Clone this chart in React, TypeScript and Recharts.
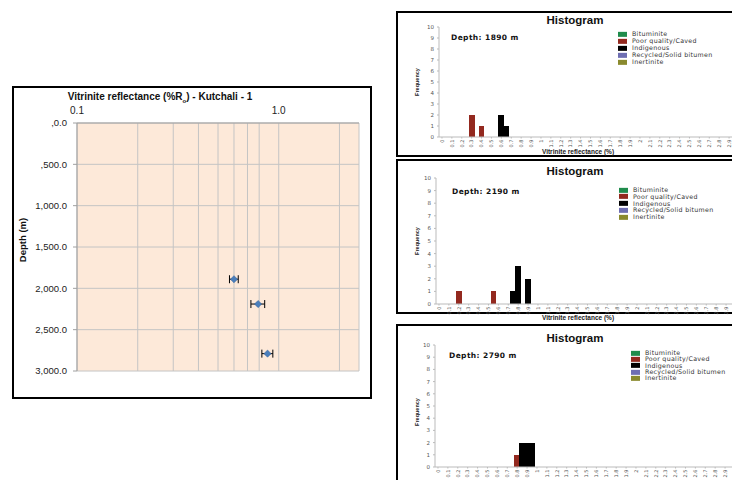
import React from "react";
import {
  ScatterChart,
  Scatter,
  BarChart,
  Bar,
  XAxis,
  YAxis,
  CartesianGrid,
  ErrorBar,
} from "recharts";

// reflectance profile (left)
const sampleDepths = [1890, 2190, 2790];
const meanRo = [0.6, 0.79, 0.88];
const roError = [0.03, 0.062, 0.055];

const roTicks = [0.1, 0.2, 0.3, 0.4, 0.5, 0.6, 0.7, 0.8, 0.9, 1, 2, 2.5];
const roTickLabels = ["0.1", "", "", "", "", "", "", "", "", "1.0", "", ""];
const depthTicks = [0, 500, 1000, 1500, 2000, 2500, 3000];
const depthTickLabels = [",0.0", ",500.0", "1,000.0", "1,500.0", "2,000.0", "2,500.0", "3,000.0"];
const depthMinorTicks = [
  0, 100, 200, 300, 400, 500, 600, 700, 800, 900, 1000, 1100, 1200, 1300, 1400, 1500,
  1600, 1700, 1800, 1900, 2000, 2100, 2200, 2300, 2400, 2500, 2600, 2700, 2800, 2900, 3000,
];

// histograms (right)
const macerals = ["Bituminite", "Poor quality/Caved", "Indigenous", "Recycled/Solid bitumen", "Inertinite"];
const maceralColors = ["#1F8C4C", "#93291F", "#000000", "#6E6EB2", "#8A8A2E"];
const histTicks = [
  0, 0.1, 0.2, 0.3, 0.4, 0.5, 0.6, 0.7, 0.8, 0.9, 1, 1.1, 1.2, 1.3, 1.4, 1.5,
  1.6, 1.7, 1.8, 1.9, 2, 2.1, 2.2, 2.3, 2.4, 2.5, 2.6, 2.7, 2.8, 2.9,
];
const freqTicks = [0, 1, 2, 3, 4, 5, 6, 7, 8, 9, 10];

const bins1890 = [0.3, 0.4, 0.6, 0.65];
const poor1890 = [2, 1, 0, 0];
const indig1890 = [0, 0, 2, 1];

const bins2190 = [0.2, 0.55, 0.75, 0.8, 0.9];
const poor2190 = [1, 1, 0, 0, 0];
const indig2190 = [0, 0, 1, 3, 2];

const bins2790 = [0.8, 0.85, 0.9, 0.95];
const poor2790 = [1, 0, 0, 0];
const indig2790 = [0, 2, 2, 2];

const profileRows = sampleDepths.map((d, i) => ({ depth: d, ro: meanRo[i], err: roError[i] }));

const histRows = (bins: number[], poor: number[], ind: number[]) =>
  bins.map((ro, i) => ({ ro, poor: poor[i], ind: ind[i] }));

const panels = [
  {
    depth: "Depth: 1890 m",
    rows: histRows(bins1890, poor1890, indig1890),
    top: 12, plotLeft: 439, plotTop: 27, plotBottom: 137,
    boxTop: 11, boxHeight: 146,
    titleY: 21, depthX: 451, depthY: 38,
    legendX: 618, legendY: 34, legendStep: 7, freqY: 82, xTitleY: 152,
  },
  {
    depth: "Depth: 2190 m",
    rows: histRows(bins2190, poor2190, indig2190),
    top: 160, plotLeft: 436, plotTop: 178, plotBottom: 304,
    boxTop: 159, boxHeight: 155,
    titleY: 172, depthX: 452, depthY: 192,
    legendX: 619, legendY: 190, legendStep: 6.8, freqY: 241, xTitleY: 318,
  },
  {
    depth: "Depth: 2790 m",
    rows: histRows(bins2790, poor2790, indig2790),
    top: 325, plotLeft: 435, plotTop: 345, plotBottom: 467,
    boxTop: 324, boxHeight: 200,
    titleY: 339, depthX: 449, depthY: 356,
    legendX: 631, legendY: 353, legendStep: 6.3, freqY: 412, xTitleY: null,
  },
];

const Diamond = (p: any) => {
  const { cx, cy } = p;
  if (cx == null || cy == null) return null;
  const r = 3.6;
  return (
    <path
      d={`M${cx},${cy - r}L${cx + r},${cy}L${cx},${cy + r}L${cx - r},${cy}Z`}
      fill="#4A7EBB"
      stroke="#2F5F9A"
      strokeWidth={0.5}
    />
  );
};

// bin bars: keep the library's x centre and height, fill the whole 0.05 bin
const BinBar = (p: any) => {
  const { x, y, width, height, fill } = p;
  if (!height || height <= 0) return null;
  const cx = x + width / 2;
  const w = 5.8;
  return <rect x={cx - w / 2} y={y} width={w} height={height} fill={fill} shapeRendering="crispEdges" />;
};

const HistTick = (p: any) => {
  const { x, y, payload } = p;
  return (
    <text
      transform={`translate(${x},${y}) rotate(-90)`}
      textAnchor="end"
      dy="0.35em"
      fontSize={5}
      fill="#555"
      fontFamily="DejaVu Sans"
    >
      {String(payload.value)}
    </text>
  );
};

const Txt = ({ x, y, children, style }: any) => (
  <div
    style={{
      position: "absolute",
      left: x,
      top: y,
      transform: "translateY(-50%)",
      whiteSpace: "nowrap",
      lineHeight: 1,
      ...style,
    }}
  >
    {children}
  </div>
);

function Profile() {
  return (
    <>
      <div
        style={{
          position: "absolute", left: 12, top: 86, width: 360, height: 313,
          boxSizing: "border-box", border: "2px solid #000", background: "#fff",
        }}
      />
      <div style={{ position: "absolute", left: 12, top: 86 }}>
        <ScatterChart width={360} height={313} margin={{ top: 15, right: 13, bottom: 28, left: 10 }}>
          <CartesianGrid stroke="#C4C4C4" fill="#FDE9D9" />
          <XAxis
            type="number"
            dataKey="ro"
            orientation="top"
            scale="log"
            domain={[0.1, 2.5]}
            allowDataOverflow
            ticks={roTicks}
            tickFormatter={(v: number) => roTickLabels[roTicks.indexOf(v)] ?? ""}
            height={22}
            tickLine={false}
            tickSize={0}
            tickMargin={9}
            axisLine={{ stroke: "#A0A0A0" }}
            tick={{ fontSize: 10, fill: "#222", fontFamily: "Liberation Sans" }}
          />
          <YAxis
            type="number"
            dataKey="depth"
            reversed
            domain={[0, 3000]}
            ticks={depthTicks}
            tickFormatter={(v: number) => depthTickLabels[depthTicks.indexOf(v)] ?? ""}
            width={55}
            tickSize={4}
            tickMargin={6}
            axisLine={{ stroke: "#A0A0A0" }}
            tickLine={{ stroke: "#A0A0A0" }}
            tick={{ fontSize: 9.5, fill: "#222", fontFamily: "Liberation Sans" }}
          />
          <YAxis
            yAxisId="minor"
            type="number"
            reversed
            domain={[0, 3000]}
            ticks={depthMinorTicks}
            mirror
            width={0}
            tickSize={3}
            axisLine={false}
            tickLine={{ stroke: "#A0A0A0" }}
            tick={() => <g />}
          />
          <Scatter data={profileRows} shape={<Diamond />} isAnimationActive={false}>
            <ErrorBar dataKey="err" direction="x" width={4} stroke="#000" strokeWidth={1} />
          </Scatter>
        </ScatterChart>
      </div>
      <div
        style={{
          position: "absolute", left: 0, width: 320, top: 91, textAlign: "center",
          fontFamily: "Liberation Sans", fontWeight: "bold", fontSize: 10, color: "#111",
        }}
      >
        Vitrinite reflectance (%R<sub style={{ fontSize: 6 }}>o</sub>) - Kutchali - 1
      </div>
      <div
        style={{
          position: "absolute", left: 22, top: 240, transform: "translate(-50%,-50%) rotate(-90deg)",
          fontFamily: "Liberation Sans", fontWeight: "bold", fontSize: 9.5, whiteSpace: "nowrap", color: "#111",
        }}
      >
        Depth (m)
      </div>
    </>
  );
}

function Histogram({ p }: any) {
  const chartH = p.plotBottom - p.top + 16;
  const leftOff = p.plotLeft - 397;
  return (
    <>
      <div
        style={{
          position: "absolute", left: 396, top: p.boxTop, width: 400, height: p.boxHeight,
          boxSizing: "border-box", border: "2px solid #000", background: "#fff",
        }}
      />
      <div style={{ position: "absolute", left: 397, top: p.top }}>
        <BarChart
          width={345}
          height={chartH}
          data={p.rows}
          barCategoryGap={0}
          barGap={0}
          margin={{ top: p.plotTop - p.top, right: 345 - leftOff - 297, bottom: 0, left: leftOff - 14 }}
        >
          <XAxis
            type="number"
            dataKey="ro"
            domain={[-0.03, 2.97]}
            allowDataOverflow
            ticks={histTicks}
            interval={0}
            height={16}
            tickSize={1.5}
            tickMargin={1}
            axisLine={{ stroke: "#BBBBBB" }}
            tickLine={{ stroke: "#BBBBBB" }}
            tick={<HistTick />}
          />
          <YAxis
            type="number"
            domain={[0, 10]}
            ticks={freqTicks}
            interval={0}
            width={14}
            tickSize={2}
            tickMargin={3}
            axisLine={{ stroke: "#BBBBBB" }}
            tickLine={{ stroke: "#BBBBBB" }}
            tick={{ fontSize: 5.5, fill: "#555", fontFamily: "DejaVu Sans" }}
          />
          <Bar dataKey="poor" stackId="s" fill={maceralColors[1]} shape={<BinBar />} isAnimationActive={false} />
          <Bar dataKey="ind" stackId="s" fill={maceralColors[2]} shape={<BinBar />} isAnimationActive={false} />
        </BarChart>
      </div>
      <Txt x={575} y={p.titleY} style={{ transform: "translate(-50%,-50%)", fontFamily: "Liberation Sans", fontWeight: "bold", fontSize: 11.5, color: "#111" }}>
        Histogram
      </Txt>
      <Txt x={p.depthX} y={p.depthY} style={{ fontFamily: "DejaVu Sans", fontWeight: "bold", fontSize: 7.5, letterSpacing: 0.4, color: "#111" }}>
        {p.depth}
      </Txt>
      <div
        style={{
          position: "absolute", left: 417, top: p.freqY, transform: "translate(-50%,-50%) rotate(-90deg)",
          fontFamily: "Liberation Sans", fontWeight: "bold", fontSize: 5.5, whiteSpace: "nowrap", color: "#222",
        }}
      >
        Frequency
      </div>
      {p.xTitleY != null && (
        <Txt x={578} y={p.xTitleY} style={{ transform: "translate(-50%,-50%)", fontFamily: "Liberation Sans", fontWeight: "bold", fontSize: 6.5, color: "#222" }}>
          Vitrinite reflectance (%)
        </Txt>
      )}
      {macerals.map((m, i) => (
        <div
          key={m}
          style={{
            position: "absolute", left: p.legendX, top: p.legendY + i * p.legendStep,
            transform: "translateY(-50%)", display: "flex", alignItems: "center", whiteSpace: "nowrap",
          }}
        >
          <span style={{ display: "inline-block", width: 9, height: 5, background: maceralColors[i] }} />
          <span style={{ marginLeft: 5, fontFamily: "DejaVu Sans", fontSize: 6.3, letterSpacing: 0.3, color: "#333", lineHeight: 1 }}>
            {m}
          </span>
        </div>
      ))}
    </>
  );
}

export default function App() {
  return (
    <div
      style={{
        position: "absolute", left: 0, top: 0, width: 732, height: 480,
        overflow: "hidden", background: "#fff",
      }}
    >
      <Profile />
      {panels.map((p) => (
        <Histogram key={p.depth} p={p} />
      ))}
    </div>
  );
}
